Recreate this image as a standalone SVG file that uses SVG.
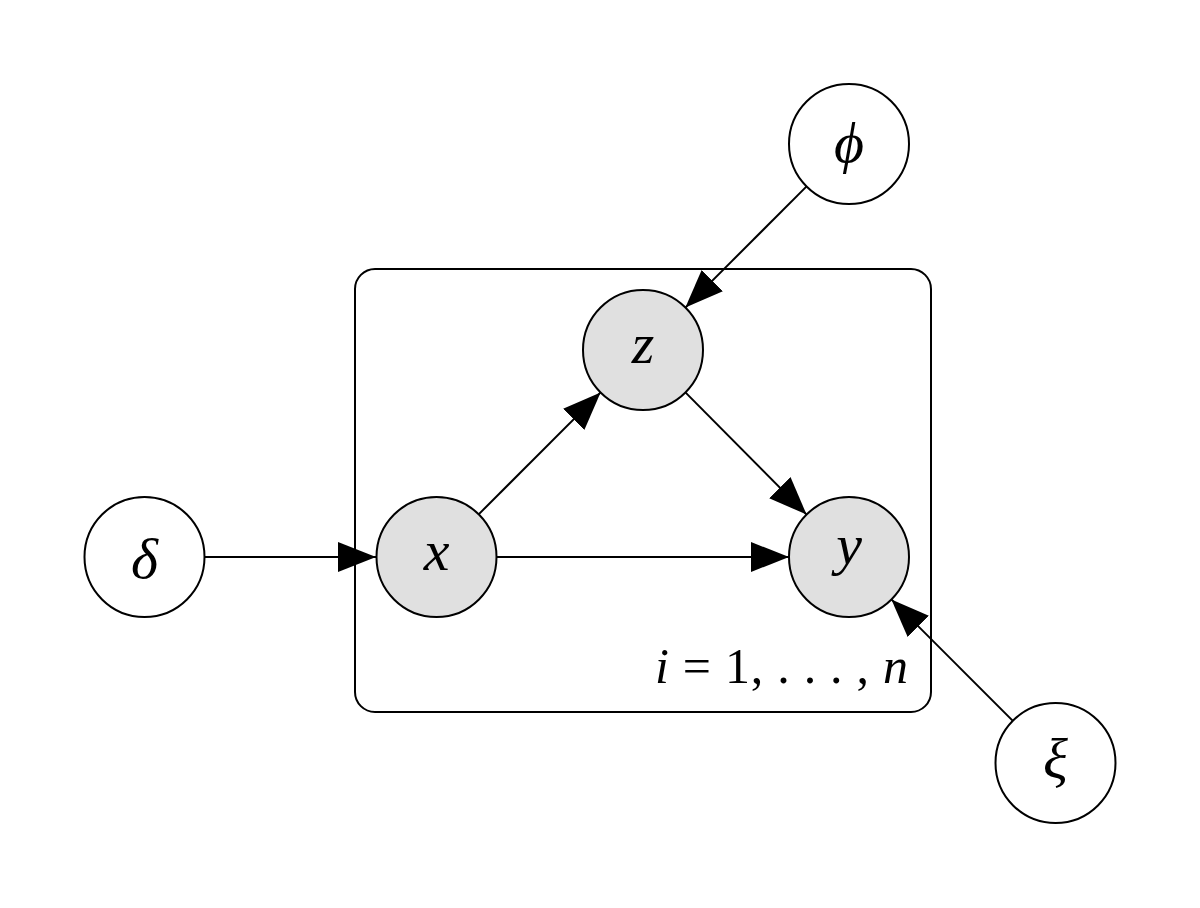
<svg xmlns="http://www.w3.org/2000/svg" width="1200" height="908" viewBox="0 0 1200 908">
<style>
.obs{fill:#e0e0e0;stroke:#000;stroke-width:2}
.lat{fill:#fff;stroke:#000;stroke-width:2}
.lbl{font-family:"Liberation Serif","DejaVu Serif",serif;font-style:italic;font-size:58px;text-anchor:middle;fill:#000}
.edge{stroke:#000;stroke-width:2;fill:none;marker-end:url(#arr)}
.plate{fill:none;stroke:#000;stroke-width:2}
.plbl{font-family:"Liberation Serif","DejaVu Serif",serif;font-size:50px;fill:#000}
</style>
<defs>
<marker id="arr" markerUnits="userSpaceOnUse" markerWidth="40" markerHeight="32" refX="38" refY="15" orient="auto">
<path d="M0,0 L38,15 L0,30 Z" fill="#000"/>
</marker>
</defs>
<rect width="1200" height="908" fill="#fff"/>
<g id="plate">
<rect class="plate" x="355" y="269" width="576" height="443" rx="20" ry="20"/>
<text class="plbl" x="655" y="683" textLength="253" lengthAdjust="spacing"><tspan font-style="italic">i</tspan> = 1, . . . , <tspan font-style="italic">n</tspan></text>
</g>
<g id="connectors">
<line class="edge" x1="806.6" y1="186.4" x2="685.4" y2="307.6"/>
<line class="edge" x1="478.4" y1="514.6" x2="600.6" y2="392.4"/>
<line class="edge" x1="685.4" y1="392.4" x2="806.6" y2="514.6"/>
<line class="edge" x1="496.5" y1="557" x2="789" y2="557"/>
<line class="edge" x1="204.5" y1="557" x2="376" y2="557"/>
<line class="edge" x1="1012.6" y1="720.6" x2="891.4" y2="599.4"/>
</g>
<g id="node-phi">
<circle class="lat" cx="849" cy="144" r="60"/>
<text class="lbl" x="849" y="162">ϕ</text>
</g>
<g id="node-z">
<circle class="obs" cx="643" cy="350" r="60"/>
<text class="lbl" x="643" y="363">z</text>
</g>
<g id="node-x">
<circle class="obs" cx="436.5" cy="557" r="60"/>
<text class="lbl" x="436.5" y="570">x</text>
</g>
<g id="node-y">
<circle class="obs" cx="849" cy="557" r="60"/>
<text class="lbl" x="849" y="564">y</text>
</g>
<g id="node-delta">
<circle class="lat" cx="144.5" cy="557" r="60"/>
<text class="lbl" x="144.5" y="578">δ</text>
</g>
<g id="node-xi">
<circle class="lat" cx="1055.5" cy="763" r="60"/>
<text class="lbl" x="1055.5" y="778">ξ</text>
</g>
</svg>
